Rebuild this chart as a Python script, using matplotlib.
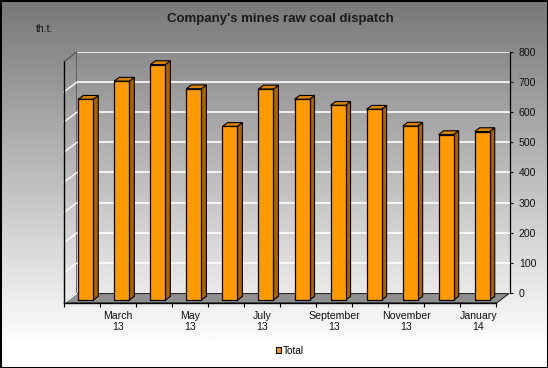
import numpy as np
import matplotlib
matplotlib.use('Agg')
import matplotlib.pyplot as plt
from matplotlib.patches import Rectangle, Polygon, Patch

plt.rcParams['font.family'] = ['Liberation Sans', 'DejaVu Sans']

months = ['February\n13', 'March\n13', 'April\n13', 'May\n13', 'June\n13', 'July\n13',
          'August\n13', 'September\n13', 'October\n13', 'November\n13', 'December\n13', 'January\n14']
total = [666, 726, 781, 701, 576, 700, 666, 646, 633, 577, 549, 559]
y_ticks = [0, 100, 200, 300, 400, 500, 600, 700, 800]

W, H = 548, 368
fig = plt.figure(figsize=(W / 100, H / 100), dpi=100)

# background gradient
bg = fig.add_axes([0, 0, 1, 1], zorder=-10)
rows = np.arange(H)
shade = np.clip(0.47 + (1 - 0.47) * rows / 345, 0, 1)
grad = np.repeat(shade[:, None], 2, axis=1)
bg.imshow(np.dstack([grad, grad, grad]), aspect='auto', extent=[0, 1, 0, 1])
bg.axis('off')

# back wall with right value axis
wall = fig.add_axes([76 / W, (H - 293) / H, (509.7 - 76) / W, (293 - 51.7) / H])
wall.set_facecolor('none')
wall.set_ylim(0, 800)
wall.set_xlim(0, 1)
wall.set_yticks(y_ticks)
wall.set_xticks([])
wall.yaxis.tick_right()
wall.tick_params(axis='y', length=2.5, width=0.8, pad=4, labelsize=7.6, colors='#111111')
wall.grid(axis='y', color='white', linewidth=1.2)
wall.spines['top'].set_visible(False)
wall.spines['bottom'].set_visible(False)
wall.spines['left'].set_color('#555555')
wall.spines['left'].set_linewidth(0.6)
wall.spines['right'].set_linewidth(0.9)

# front plane: floor, left wall, bars, category axis
ax = fig.add_axes([64 / W, (H - 303) / H, 432.5 / W, (293 - 51.7) / H])
ax.set_facecolor('none')
ax.set_xlim(-0.5, 11.5)
ax.set_ylim(0, 800)

DX = 12.5 / (432.5 / 12)
DY = 9.5 / ((293 - 51.7) / 800)

floor = Polygon([(-0.5, 0), (11.5, 0), (11.5 + DX, DY), (-0.5 + DX, DY)],
                closed=True, facecolor='#8f8f8f', edgecolor='#222222', linewidth=0.8,
                clip_on=False, zorder=1)
ax.add_patch(floor)

for v in y_ticks:
    col = '#555555' if v == 800 else 'white'
    ax.plot([-0.5, -0.5 + DX], [v, v + DY], color=col, linewidth=1.0, clip_on=False, zorder=1)

w = 0.416
f = 0.3
d = 0.4
for i, v in enumerate(total):
    x0 = i - w / 2 + f * DX
    y0 = f * DY
    side = Polygon([(x0 + w, y0), (x0 + w + d * DX, y0 + d * DY),
                    (x0 + w + d * DX, y0 + v + d * DY), (x0 + w, y0 + v)],
                   closed=True, facecolor='#A86400', edgecolor='black', linewidth=0.8,
                   clip_on=False, zorder=3)
    top = Polygon([(x0, y0 + v), (x0 + w, y0 + v), (x0 + w + d * DX, y0 + v + d * DY),
                   (x0 + d * DX, y0 + v + d * DY)],
                  closed=True, facecolor='#D98200', edgecolor='black', linewidth=0.8,
                  clip_on=False, zorder=3)
    front = Rectangle((x0, y0), w, v, facecolor='#FF9900', edgecolor='black',
                      linewidth=0.9, clip_on=False, zorder=4)
    ax.add_patch(side)
    ax.add_patch(top)
    ax.add_patch(front)

ax.spines['top'].set_visible(False)
ax.spines['right'].set_visible(False)
ax.spines['left'].set_linewidth(1.0)
ax.spines['bottom'].set_linewidth(1.0)
ax.spines['bottom'].set_zorder(5)
ax.set_yticks([])
ax.set_xticks(np.arange(-0.5, 12, 1), minor=True)
ax.set_xticks(range(1, 12, 2))
ax.set_xticklabels(months[1::2], fontsize=7.6, color='#111111', linespacing=1.05)
ax.tick_params(axis='x', which='major', length=0, pad=6)
ax.tick_params(axis='x', which='minor', length=3, width=0.8)

fig.text(280 / W, 1 - 19 / H, "Company's mines raw coal dispatch", ha='center', va='center',
         fontsize=9.5, fontweight='bold', color='#1a1a1a')
fig.text(45 / W, 1 - 28.5 / H, 'th.t.', ha='center', va='center', fontsize=7.6, color='#111111')

fig.patches.append(Rectangle((213 / W, 1 - 359 / H), 149 / W, 18 / H, transform=fig.transFigure,
                             facecolor='white', edgecolor='none', zorder=0))
fig.legend(handles=[Patch(facecolor='#FF9900', edgecolor='black', linewidth=0.8, label='Total')],
           loc='center', bbox_to_anchor=(290 / W, 1 - 351 / H), frameon=False, fontsize=7.2,
           handlelength=0.55, handleheight=0.55, handletextpad=0.2, borderpad=0.1)

fig.patches.append(Rectangle((0, 0), 1, 1, transform=fig.transFigure, fill=False,
                             edgecolor='black', linewidth=2.2, zorder=20))

fig.savefig('out.png', dpi=100)
